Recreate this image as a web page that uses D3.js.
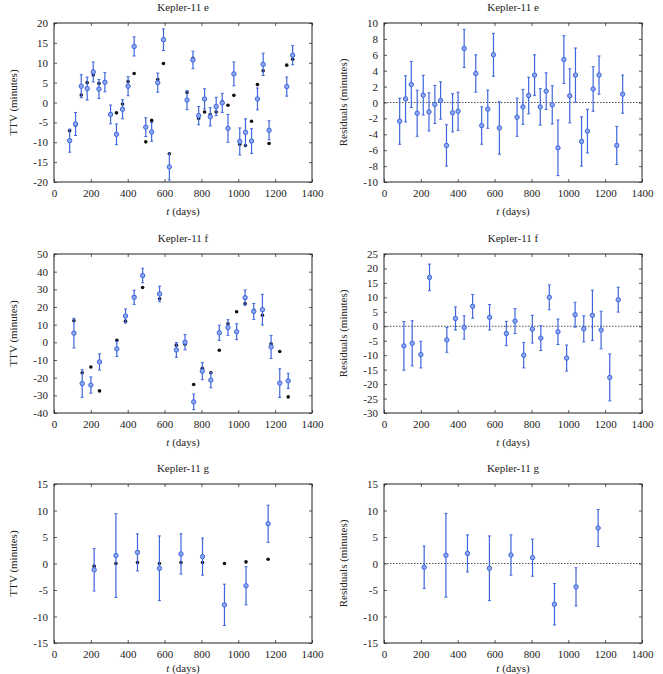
<!DOCTYPE html>
<html>
<head>
<meta charset="utf-8">
<script src="https://cdn.jsdelivr.net/npm/d3@7"></script>
<style>
  body { margin: 0; background: #fff; }
  svg text { font-family: "Liberation Serif", "DejaVu Serif", serif; fill: #222; }
</style>
</head>
<body>
<div id="chart"></div>
<script>
// Kepler-11 e
const tE = [85, 117, 148, 180, 213, 244, 276, 307, 339, 372, 402, 435, 498, 530, 563, 594, 626,
  722, 754, 785, 817, 848, 880, 913, 944, 976, 1008, 1039, 1072, 1104, 1135, 1167, 1263, 1295];
const ttvE = [-9.6, -5.4, 4.1, 3.5, 7.7, 3.4, 5.1, -3.0, -8.0, -1.7, 4.1, 14.1, -6.2, -7.4, 5.0, 15.8, -16.2,
  0.6, 10.7, -3.3, 0.9, -3.6, -1.0, -0.1, -6.5, 7.2, -9.8, -7.5, -9.7, 0.9, 9.6, -7.0, 4.0, 11.9];
const modelE = [-7.1, -5.7, 1.9, 5.0, 6.9, 4.8, 5.2, -3.1, -2.6, -0.4, 5.3, 7.3, -9.9, -4.5, 5.8, 9.8, -12.9,
  2.5, 11.1, -4.0, -2.4, -3.0, -2.4, 0.2, -0.7, 1.8, -10.5, -10.8, -4.7, 4.5, 8.0, -10.3, 9.4, 10.9];
const residE = [-2.35, 0.46, 2.27, -1.35, 0.92, -1.18, -0.25, 0.25, -5.4, -1.3, -1.1, 6.8, 3.65, -2.9, -0.84, 6.0, -3.2,
  -1.85, -0.55, 0.88, 3.45, -0.55, 1.43, -0.3, -5.7, 5.4, 0.84, 3.45, -4.9, -3.6, 1.7, 3.45, -5.4, 1.05];
const errE = [2.9, 2.9, 2.9, 2.9, 2.5, 2.4, 2.4, 2.35, 2.6, 2.4, 2.4, 2.4, 2.35, 2.35, 2.4, 2.7, 3.3,
  2.4, 2.2, 2.3, 2.55, 2.3, 2.3, 2.4, 3.5, 3.0, 3.4, 3.4, 3.1, 2.75, 2.8, 2.4, 2.4, 2.4];

// Kepler-11 f
const tF = [108, 153, 200, 247, 341, 388, 435, 481, 573, 664, 711, 758, 805, 851, 897, 944, 991,
  1037, 1084, 1131, 1178, 1225, 1271];
const ttvF = [5.2, -23.3, -24.2, -11.1, -3.7, 14.9, 25.5, 37.8, 27.4, -4.3, 0.1, -33.7, -16.3, -21.4, 5.4, 8.4, 6.0,
  25.3, 17.5, 18.5, -2.6, -23.1, -21.8];
const modelF = [12.2, -17.2, -14.0, -27.5, 1.2, 12.0, 25.9, 31.0, 24.7, -1.6, -1.1, -23.9, -14.7, -17.2, -4.5, 10.5, 17.3,
  21.9, 18.1, 15.3, -0.9, -5.2, -30.9];
const residF = [-6.8, -5.9, -9.8, 16.9, -4.7, 2.7, -0.4, 6.9, 3.1, -2.5, 1.8, -10.0, -1.0, -4.1, 10.0, -1.9, -11.0,
  4.0, -0.9, 3.8, -1.3, -17.7, 9.2];
const errF = [8.4, 7.8, 4.6, 4.6, 4.3, 4.0, 4.0, 4.1, 4.4, 4.2, 4.3, 4.4, 4.8, 4.3, 4.3, 4.4, 4.5,
  4.3, 4.5, 8.7, 6.5, 8.1, 4.3];

// Kepler-11 g
const tG = [218, 336, 453, 572, 689, 806, 925, 1042, 1162];
const ttvG = [-1.2, 1.5, 2.1, -0.9, 1.8, 1.3, -7.8, -4.2, 7.5];
const modelG = [-0.5, 0.0, 0.2, 0.0, 0.2, 0.2, 0.0, 0.3, 0.8];
const residG = [-0.7, 1.55, 1.9, -0.9, 1.6, 1.1, -7.7, -4.4, 6.7];
const errG = [4.0, 7.9, 3.5, 6.1, 3.8, 3.5, 3.9, 3.6, 3.5];

const xTicks = [0, 200, 400, 600, 800, 1000, 1200, 1400];

const panels = [
  { title: 'Kepler-11 e', ylabel: 'TTV (minutes)', t: tE, y: ttvE, model: modelE, err: errE, ydom: [-20, 20], ystep: 5, col: 0, row: 0 },
  { title: 'Kepler-11 e', ylabel: 'Residuals (minutes)', t: tE, y: residE, err: errE, ydom: [-10, 10], ystep: 2, col: 1, row: 0, zero: true },
  { title: 'Kepler-11 f', ylabel: 'TTV (minutes)', t: tF, y: ttvF, model: modelF, err: errF, ydom: [-40, 50], ystep: 10, col: 0, row: 1 },
  { title: 'Kepler-11 f', ylabel: 'Residuals (minutes)', t: tF, y: residF, err: errF, ydom: [-30, 25], ystep: 5, col: 1, row: 1, zero: true },
  { title: 'Kepler-11 g', ylabel: 'TTV (minutes)', t: tG, y: ttvG, model: modelG, err: errG, ydom: [-15, 15], ystep: 5, col: 0, row: 2 },
  { title: 'Kepler-11 g', ylabel: 'Residuals (minutes)', t: tG, y: residG, err: errG, ydom: [-15, 15], ystep: 5, col: 1, row: 2, zero: true }
];

const width = 663, height = 674;
const colLeft = [54, 384];
const rowTop = [23, 254, 484];
const xLabelOffset = [33, 33, 29];
const plotW = 258, plotH = 159;

const BLUE = '#3f66dc';
const BLUE_FILL = '#8ea8f2';

const svg = d3.select('#chart').append('svg')
  .attr('width', width)
  .attr('height', height);

panels.forEach(p => {
  const g = svg.append('g')
    .attr('transform', `translate(${colLeft[p.col]}, ${rowTop[p.row]})`);

  const x = d3.scaleLinear().domain([0, 1400]).range([0, plotW]);
  const y = d3.scaleLinear().domain(p.ydom).range([plotH, 0]);
  const yTicks = d3.range(p.ydom[0], p.ydom[1] + 0.001, p.ystep);

  // axes with inward ticks on all four sides
  g.append('g')
    .attr('transform', `translate(0, ${plotH})`)
    .call(d3.axisBottom(x).tickValues(xTicks).tickSizeInner(-3).tickSizeOuter(0).tickPadding(7).tickFormat(d => String(d)));
  g.append('g')
    .call(d3.axisTop(x).tickValues(xTicks).tickSizeInner(-3).tickSizeOuter(0).tickFormat(''));
  g.append('g')
    .call(d3.axisLeft(y).tickValues(yTicks).tickSizeInner(-3).tickSizeOuter(0).tickPadding(6).tickFormat(d => String(d)));
  g.append('g')
    .attr('transform', `translate(${plotW}, 0)`)
    .call(d3.axisRight(y).tickValues(yTicks).tickSizeInner(-3).tickSizeOuter(0).tickFormat(''));

  g.selectAll('.domain').remove();
  g.selectAll('.tick line').attr('stroke', '#333').attr('stroke-width', 0.8);
  g.selectAll('.tick text')
    .style('font-family', '"Liberation Serif", serif')
    .style('font-size', '11px')
    .attr('fill', '#222');

  g.append('rect')
    .attr('width', plotW)
    .attr('height', plotH)
    .attr('fill', 'none')
    .attr('stroke', '#222')
    .attr('stroke-width', 1);

  if (p.zero) {
    g.append('line')
      .attr('x1', 0).attr('x2', plotW)
      .attr('y1', y(0)).attr('y2', y(0))
      .attr('stroke', '#222')
      .attr('stroke-width', 0.8)
      .attr('stroke-dasharray', '1.5,1.5');
  }

  const data = p.t.map((t, i) => ({ t, v: p.y[i], e: p.err[i], m: p.model ? p.model[i] : null }));

  const plotArea = g.append('g');

  // model points
  if (p.model) {
    plotArea.selectAll('circle.model')
      .data(data)
      .enter()
      .append('circle')
      .attr('class', 'model')
      .attr('cx', d => x(d.t))
      .attr('cy', d => y(d.m))
      .attr('r', 1.8)
      .attr('fill', '#111');
  }

  // error bars
  const bars = plotArea.selectAll('g.bar')
    .data(data)
    .enter()
    .append('g')
    .attr('class', 'bar');

  bars.append('line')
    .attr('x1', d => x(d.t)).attr('x2', d => x(d.t))
    .attr('y1', d => Math.min(plotH, y(d.v - d.e)))
    .attr('y2', d => y(d.v + d.e))
    .attr('stroke', BLUE)
    .attr('stroke-width', 1.2);

  bars.append('line')
    .attr('x1', d => x(d.t) - 1.5).attr('x2', d => x(d.t) + 1.5)
    .attr('y1', d => y(d.v + d.e)).attr('y2', d => y(d.v + d.e))
    .attr('stroke', BLUE)
    .attr('stroke-width', 1);

  bars.filter(d => y(d.v - d.e) < plotH)
    .append('line')
    .attr('x1', d => x(d.t) - 1.5).attr('x2', d => x(d.t) + 1.5)
    .attr('y1', d => y(d.v - d.e)).attr('y2', d => y(d.v - d.e))
    .attr('stroke', BLUE)
    .attr('stroke-width', 1);

  bars.append('circle')
    .attr('cx', d => x(d.t))
    .attr('cy', d => y(d.v))
    .attr('r', 2.2)
    .attr('fill', BLUE_FILL)
    .attr('stroke', BLUE)
    .attr('stroke-width', 1);

  // title
  g.append('text')
    .attr('x', plotW / 2)
    .attr('y', -12)
    .attr('text-anchor', 'middle')
    .style('font-size', '11px')
    .text(p.title);

  // x-axis title
  const xl = g.append('text')
    .attr('x', plotW / 2)
    .attr('y', plotH + xLabelOffset[p.row])
    .attr('text-anchor', 'middle')
    .style('font-size', '11px');
  xl.append('tspan').style('font-style', 'italic').text('t');
  xl.append('tspan').text(' (days)');

  // y-axis title
  g.append('text')
    .attr('transform', 'rotate(-90)')
    .attr('x', -plotH / 2)
    .attr('y', -37)
    .attr('text-anchor', 'middle')
    .style('font-size', '11px')
    .text(p.ylabel);
});
</script>
</body>
</html>
